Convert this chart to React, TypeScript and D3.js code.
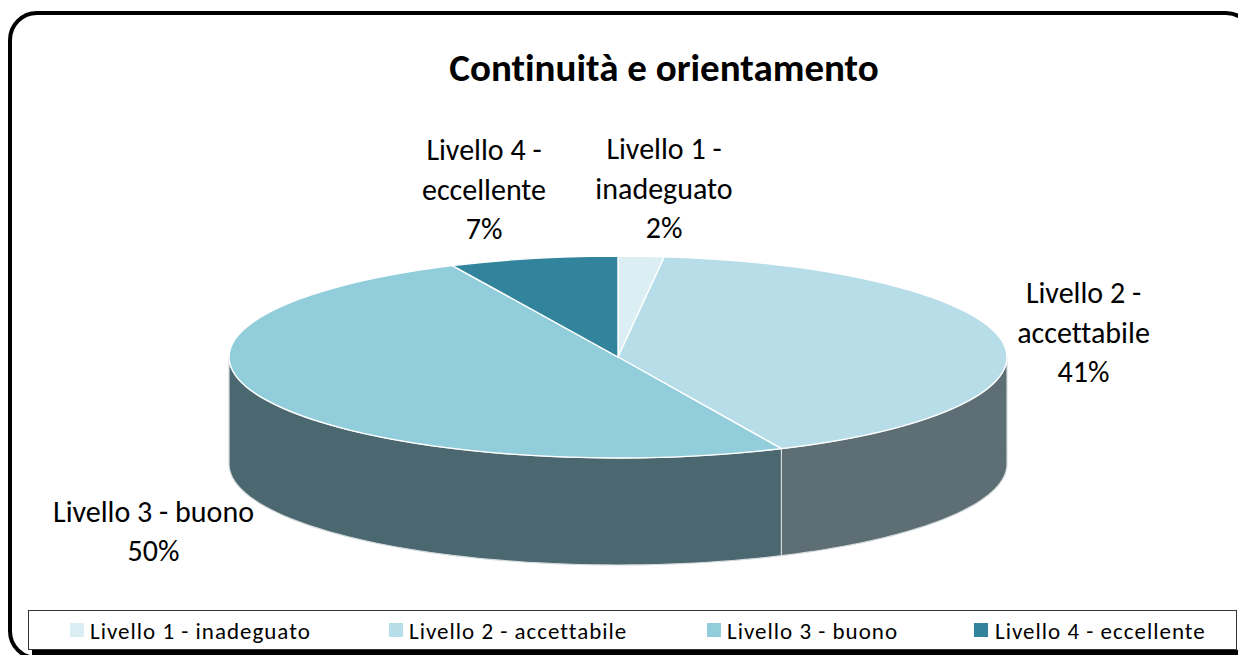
import React from "react";
import * as d3 from "d3";

const title = "Continuità e orientamento";
const categories = ["Livello 1 - inadeguato", "Livello 2 - accettabile", "Livello 3 - buono", "Livello 4 - eccellente"];
const values = [1.9, 41.2, 49.9, 7.0];
const topColors = ["#DAEEF3", "#B7DDE8", "#92CDDC", "#31849B"];
const sideColors = ["#6D7779", "#5E6E75", "#4B6770", "#2A5A68"];
const labelLines = [["Livello 1 -", "inadeguato"], ["Livello 2 -", "accettabile"], ["Livello 3 - buono"], ["Livello 4 -", "eccellente"]];
const labelX = [664, 1083.5, 153.5, 484];
const labelBottomY = [238, 382, 561, 239];
const legendSwatchX = [70, 389, 707, 974];
const legendTextX = [90, 409, 727, 995];

const font = "Carlito, Calibri, Lato, sans-serif";
const cx = 618, cy = 357, rx = 389, ry = 101, depth = 107;
const W = 1238, H = 655;

export default function App() {
  const pie = d3.pie<number>().sort(null).startAngle(0).endAngle(2 * Math.PI);
  const arcs = pie(values);
  const arc = d3.arc<d3.PieArcDatum<number>>().innerRadius(0).outerRadius(rx);
  const total = d3.sum(values);
  const sx = d3.scaleLinear().domain([-1, 1]).range([cx - rx, cx + rx]);
  const sy = d3.scaleLinear().domain([-1, 1]).range([cy - ry, cy + ry]);
  const line = d3.line<[number, number]>();
  const rim = (a: number, dy = 0): [number, number] => [sx(Math.sin(a)), sy(-Math.cos(a)) + dy];

  const sides = arcs.map((a, i) => {
    const s = Math.max(a.startAngle, Math.PI / 2);
    const e = Math.min(a.endAngle, (3 * Math.PI) / 2);
    if (e <= s) return null;
    const angles = d3.range(0, 61).map((k) => s + ((e - s) * k) / 60);
    const pts = [...angles.map((t) => rim(t)), ...angles.slice().reverse().map((t) => rim(t, depth))];
    return <path key={i} d={line(pts)! + "Z"} fill={sideColors[i]} stroke="#D5DCDE" strokeWidth={1.2} strokeLinejoin="round" />;
  });

  return (
    <svg width={W} height={H} viewBox={`0 0 ${W} ${H}`} style={{ position: "absolute", left: 0, top: 0, display: "block", fontVariantLigatures: "none" }} fontFamily={font}>
      <rect x={0} y={0} width={W} height={H} fill="#fff" />
      <rect x={10} y={13} width={1243} height={645} rx={27} ry={27} fill="#fff" stroke="#000" strokeWidth={4} />
      <text x={664} y={81} textAnchor="middle" fontSize={39} fontWeight={700} fill="#000">{title}</text>

      {sides}
      <g transform={`translate(${cx},${cy}) scale(1,${ry / rx})`}>
        {arcs.map((a, i) => (
          <path key={i} d={arc(a)!} fill={topColors[i]} stroke="#fff" strokeWidth={1.4} vectorEffect="non-scaling-stroke" />
        ))}
      </g>

      {arcs.map((a, i) => {
        const lines = [...labelLines[i], `${Math.round((a.value / total) * 100)}%`];
        const n = lines.length;
        return (
          <text key={i} textAnchor="middle" fontSize={30} fill="#000">
            {lines.map((t, j) => (
              <tspan key={j} x={labelX[i]} y={labelBottomY[i] - (n - 1 - j) * 39.5}>{t}</tspan>
            ))}
          </text>
        );
      })}

      <rect x={32} y={650} width={1210} height={6} fill="#000" />
      <rect x={28.5} y={610.5} width={1208} height={39} fill="#fff" stroke="#333" strokeWidth={1} />
      {categories.map((c, i) => (
        <g key={c}>
          <rect x={legendSwatchX[i]} y={623} width={14} height={14} fill={topColors[i]} />
          <text x={legendTextX[i]} y={639} fontSize={23} letterSpacing={1} fill="#000">{c}</text>
        </g>
      ))}
    </svg>
  );
}
